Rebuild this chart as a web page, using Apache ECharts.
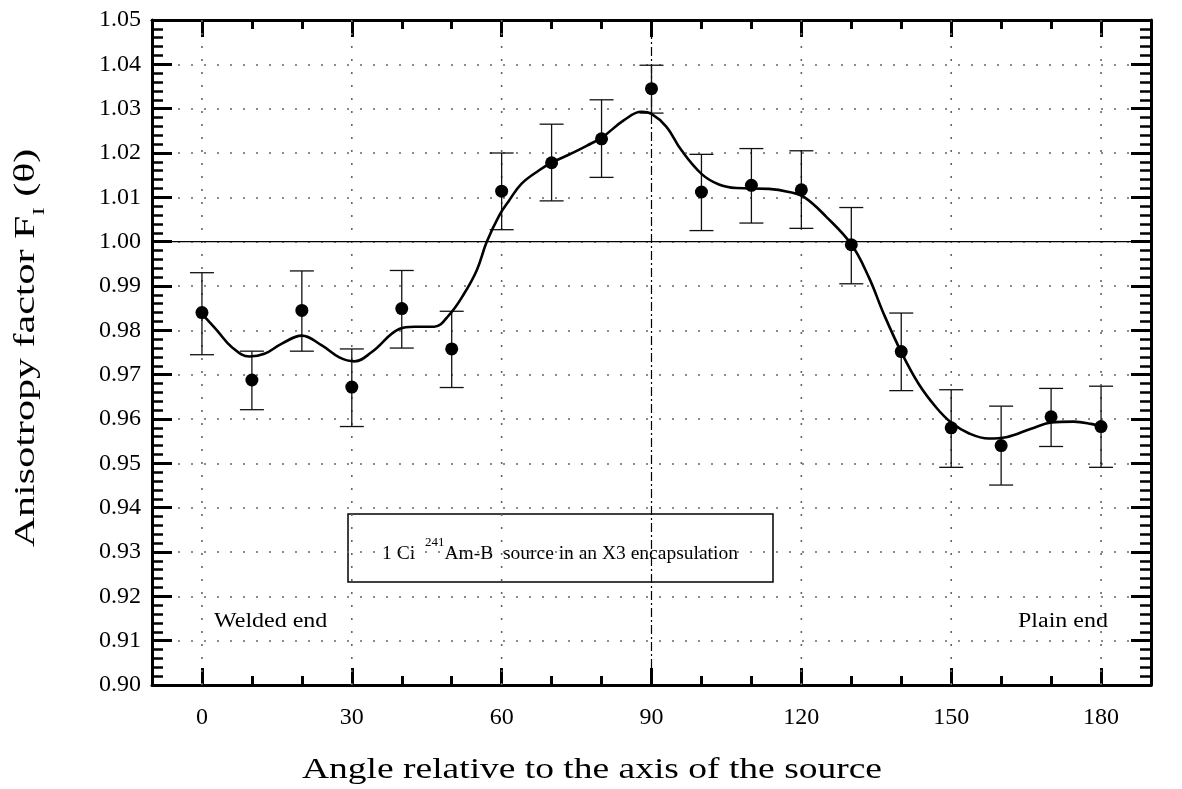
<!DOCTYPE html>
<html>
<head>
<meta charset="utf-8">
<script src="https://cdn.jsdelivr.net/npm/echarts@6/dist/echarts.min.js"></script>
<style>
  html, body { margin: 0; padding: 0; background: #fff; }
  #chart { width: 1182px; height: 789px; }
</style>
</head>
<body>
<div id="chart"></div>
<script>
// ---- data ----
const angles = [0, 10, 20, 30, 40, 50, 60, 70, 80, 90, 100, 110, 120, 130, 140, 150, 160, 170, 180];
const factor = [0.9840, 0.9688, 0.9845, 0.9672, 0.9849, 0.9758, 1.0114, 1.0178, 1.0232, 1.0345,
                1.0112, 1.0127, 1.0117, 0.9993, 0.9752, 0.9580, 0.9540, 0.9605, 0.9583];
const errLow  = [0.9745, 0.9621, 0.9753, 0.9583, 0.9760, 0.9671, 1.0027, 1.0092, 1.0145, 1.0290,
                 1.0025, 1.0042, 1.0030, 0.9905, 0.9664, 0.9491, 0.9451, 0.9538, 0.9491];
const errHigh = [0.9930, 0.9753, 0.9934, 0.9758, 0.9935, 0.9843, 1.0200, 1.0265, 1.0320, 1.0398,
                 1.0197, 1.0210, 1.0205, 1.0077, 0.9839, 0.9666, 0.9629, 0.9669, 0.9674];

const fitAngles = [0, 3, 6, 9.5, 12.5, 16, 20, 24, 27.5, 30.5, 34, 39.5, 42.5, 46.5, 49.5, 52.5, 55, 57,
                   59.5, 61.5, 64, 67.5, 70, 74, 78, 80, 84.5, 88, 90, 93, 96, 100, 103.5, 107, 113.5,
                   117.5, 120.5, 125, 130, 133.5, 136.5, 140, 143.5, 147, 150, 153.5, 157.5, 161, 166,
                   170, 174.5, 178, 180];
const fitValues = [0.9837, 0.9800, 0.9762, 0.9741, 0.9747, 0.9770, 0.9788, 0.9766, 0.9739, 0.9730,
                   0.9751, 0.9803, 0.9808, 0.9808, 0.9835, 0.9883, 0.9935, 0.9999, 1.0059, 1.0093,
                   1.0131, 1.0161, 1.0178, 1.0199, 1.0222, 1.0234, 1.0274, 1.0293, 1.0288, 1.0259,
                   1.0206, 1.0153, 1.0129, 1.0121, 1.0119, 1.0112, 1.0101, 1.0056, 0.9994, 0.9920,
                   0.9837, 0.9751, 0.9679, 0.9626, 0.9592, 0.9568, 0.9556, 0.9559, 0.9578, 0.9592,
                   0.9594, 0.9589, 0.9583];

const xMajorTicks = [0, 30, 60, 90, 120, 150, 180];
const xMinorTicks = [0, 10, 20, 30, 40, 50, 60, 70, 80, 90, 100, 110, 120, 130, 140, 150, 160, 170, 180];
const xDottedGrid = [0, 30, 60, 120, 150, 180];
const xCentreLine = [90];
const yReference = [1.00];

const xTitle = 'Angle relative to the axis of the source';
const yTitle = ['Anisotropy factor F', 'I', ' (θ)'];
const boxText = ['1 Ci  ', '241', 'Am-B  source in an X3 encapsulation'];
const leftNote = 'Welded end';
const rightNote = 'Plain end';

// ---- chart ----
const FONT = '"Liberation Serif", "Times New Roman", serif';
const chart = echarts.init(document.getElementById('chart'), null, { renderer: 'canvas' });

const tickStyle = { color: '#000', width: 3 };
const axisLineStyle = { color: '#000', width: 3 };

function xAxisBase(position) {
  return {
    type: 'value', min: -10, max: 190, position: position,
    axisLine: { show: true, onZero: false, lineStyle: axisLineStyle },
    splitLine: { show: false },
    axisLabel: { show: false },
    axisTick: { show: false }
  };
}

const xAxes = [];
xAxes.push(Object.assign(xAxisBase('bottom'), {
  axisTick: { show: true, inside: true, length: 9, customValues: xMinorTicks, lineStyle: tickStyle }
}));
xAxes.push(Object.assign(xAxisBase('bottom'), {
  axisLine: { show: false, onZero: false },
  axisTick: { show: true, inside: true, length: 17, customValues: xMajorTicks, lineStyle: tickStyle },
  axisLabel: { show: true, customValues: xMajorTicks, color: '#000', fontSize: 24, fontFamily: FONT, margin: 21 }
}));
xAxes.push(Object.assign(xAxisBase('top'), {
  axisTick: { show: true, inside: true, length: 9, customValues: xMinorTicks, lineStyle: tickStyle }
}));
xAxes.push(Object.assign(xAxisBase('top'), {
  axisLine: { show: false, onZero: false },
  axisTick: { show: true, inside: true, length: 17, customValues: xMajorTicks, lineStyle: tickStyle }
}));

function yAxisBase(position, withLabels) {
  return {
    type: 'value', min: 0.90, max: 1.05, interval: 0.01, position: position,
    axisLine: { show: true, onZero: false, lineStyle: axisLineStyle },
    axisTick: { show: true, inside: true, length: 20, lineStyle: tickStyle },
    minorTick: { show: true, splitNumber: 5, length: 11, lineStyle: { color: '#000', width: 2.5 } },
    splitLine: withLabels ? { show: true, lineStyle: { color: '#666', width: 1.6, type: [2, 11] } } : { show: false },
    minorSplitLine: { show: false },
    axisLabel: withLabels ? {
      show: true, color: '#000', fontSize: 24, fontFamily: FONT, margin: 11,
      formatter: v => v.toFixed(2)
    } : { show: false }
  };
}
const yAxes = [yAxisBase('left', true), yAxisBase('right', false)];

const errorData = angles.map((a, i) => [a, errLow[i], errHigh[i]]);
const pointData = angles.map((a, i) => [a, factor[i]]);
const fitData = fitAngles.map((a, i) => [a, fitValues[i]]);

function vLine(style) {
  return function (params, api) {
    const x = api.value(0);
    const p1 = api.coord([x, 0.90]);
    const p2 = api.coord([x, 1.05]);
    return { type: 'line', shape: { x1: p1[0], y1: p1[1], x2: p2[0], y2: p2[1] }, style: style };
  };
}

const option = {
  animation: false,
  backgroundColor: '#fff',
  grid: { left: 152, right: 31, top: 20, bottom: 104, containLabel: false },
  xAxis: xAxes,
  yAxis: yAxes,
  series: [
    {
      type: 'custom', z: 1, silent: true,
      data: xDottedGrid.map(v => [v]),
      renderItem: vLine({ stroke: '#666', lineWidth: 1.6, lineDash: [2, 11] })
    },
    {
      type: 'custom', z: 1, silent: true,
      data: xCentreLine.map(v => [v]),
      renderItem: vLine({ stroke: '#000', lineWidth: 1.2, lineDash: [9, 3, 2, 3] })
    },
    {
      type: 'custom', z: 1, silent: true,
      data: yReference.map(v => [v]),
      renderItem: function (params, api) {
        const y = api.value(0);
        const p1 = api.coord([-10, y]);
        const p2 = api.coord([190, y]);
        return { type: 'line', shape: { x1: p1[0], y1: p1[1], x2: p2[0], y2: p2[1] },
          style: { stroke: '#000', lineWidth: 1.2 } };
      }
    },
    {
      type: 'custom', z: 4, silent: true,
      data: errorData,
      renderItem: function (params, api) {
        const x = api.value(0);
        const lo = api.coord([x, api.value(1)]);
        const hi = api.coord([x, api.value(2)]);
        const hw = 12;
        const st = { stroke: '#111', lineWidth: 1.3 };
        return { type: 'group', children: [
          { type: 'line', shape: { x1: lo[0], y1: lo[1], x2: hi[0], y2: hi[1] }, style: st },
          { type: 'line', shape: { x1: lo[0] - hw, y1: lo[1], x2: lo[0] + hw, y2: lo[1] }, style: st },
          { type: 'line', shape: { x1: hi[0] - hw, y1: hi[1], x2: hi[0] + hw, y2: hi[1] }, style: st }
        ] };
      }
    },
    {
      type: 'line', z: 5, data: fitData, smooth: 0.4, showSymbol: false, silent: true,
      lineStyle: { color: '#000', width: 2.6 }
    },
    {
      type: 'scatter', z: 6, data: pointData, symbol: 'circle', symbolSize: 13, silent: true,
      itemStyle: { color: '#000', opacity: 1 }
    }
  ],
  graphic: [
    {
      type: 'group', z: 10,
      children: [
        { type: 'rect', shape: { x: 348, y: 514, width: 425, height: 68 },
          style: { fill: '#fff', stroke: '#000', lineWidth: 1.5 } },
        { type: 'text', x: 560, y: 550,
          style: {
            text: '{a|' + boxText[0] + '}{s|' + boxText[1] + '}{a|' + boxText[2] + '}',
            align: 'center', verticalAlign: 'middle',
            rich: {
              a: { fontSize: 19.5, fontFamily: FONT, fill: '#000', lineHeight: 28, verticalAlign: 'bottom' },
              s: { fontSize: 13, fontFamily: FONT, fill: '#000', lineHeight: 13, verticalAlign: 'top' }
            }
          } }
      ]
    },
    { type: 'text', z: 10, x: 214, y: 622, scaleX: 1.2,
      style: { text: leftNote, fontSize: 20, fontFamily: FONT, fill: '#000', verticalAlign: 'middle' } },
    { type: 'text', z: 10, x: 1108, y: 622, scaleX: 1.2,
      style: { text: rightNote, fontSize: 20, fontFamily: FONT, fill: '#000', align: 'right', verticalAlign: 'middle' } },
    { type: 'text', z: 10, x: 592, y: 770, scaleX: 1.25,
      style: { text: xTitle, fontSize: 30, fontFamily: FONT, fill: '#000', align: 'center', verticalAlign: 'middle' } },
    { type: 'text', z: 10, x: 30, y: 348, rotation: Math.PI / 2, scaleX: 1.45,
      style: {
        text: '{a|' + yTitle[0] + '}{s|' + yTitle[1] + '}{a|' + yTitle[2] + '}',
        align: 'center', verticalAlign: 'middle',
        rich: {
          a: { fontSize: 29, fontFamily: FONT, fill: '#000', lineHeight: 36, verticalAlign: 'top' },
          s: { fontSize: 17, fontFamily: FONT, fill: '#000', lineHeight: 17, verticalAlign: 'bottom' }
        }
      } }
  ]
};
chart.setOption(option);
</script>
</body>
</html>
